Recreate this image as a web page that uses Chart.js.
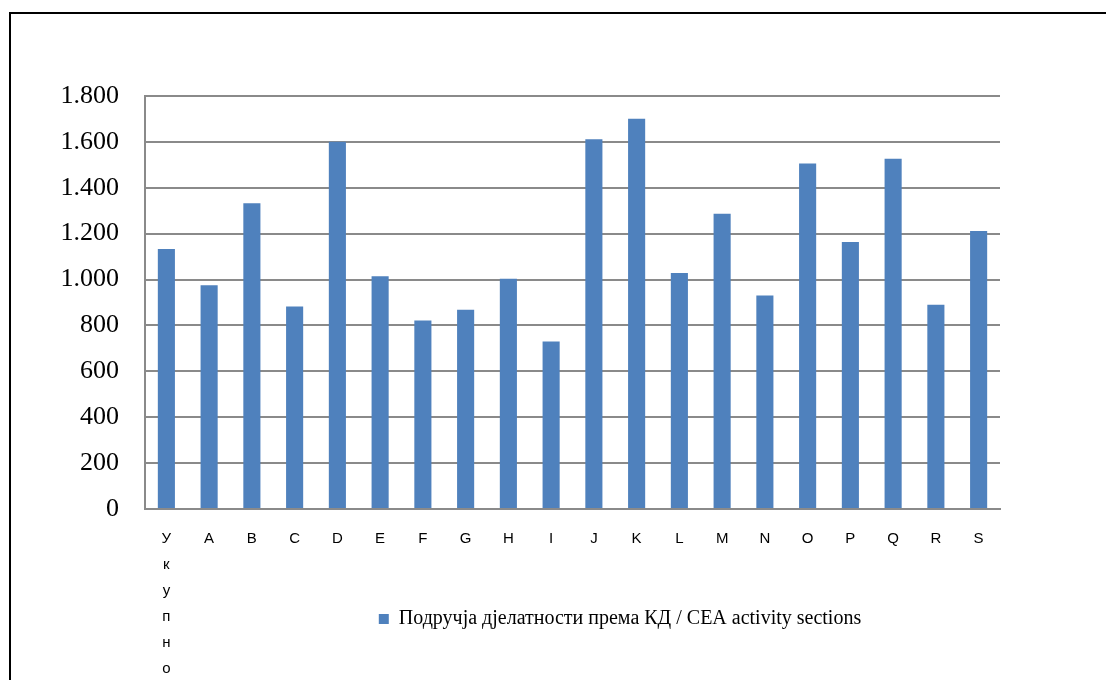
<!DOCTYPE html>
<html>
<head>
<meta charset="utf-8">
<script src="https://cdn.jsdelivr.net/npm/chart.js@4"></script>
<style>
  html, body { margin: 0; padding: 0; background: #fff; overflow: hidden; }
  #frame { position: absolute; left: 9px; top: 12px; border-left: 2px solid #000; border-top: 2px solid #000; }
  canvas { display: block; }
</style>
</head>
<body>
<div id="frame"><canvas id="chart" width="1218" height="680"></canvas></div>
<script>
// categories (first one written letter by letter, like in the original)
const categories = [['У', 'к', 'у', 'п', 'н', 'о'], 'A', 'B', 'C', 'D', 'E', 'F', 'G', 'H', 'I', 'J', 'K', 'L', 'M', 'N', 'O', 'P', 'Q', 'R', 'S'];
const values = [1133, 975, 1333, 883, 1601, 1014, 822, 868, 1004, 730, 1612, 1701, 1029, 1287, 930, 1506, 1164, 1526, 890, 1212];
const seriesName = 'Подручја дјелатности према КД / CEA activity sections';
const yMin = 0;
const yMax = 1800;
const yStep = 200;

const gridGray = '#8a8a8a';

function dotThousands(v) {
    return String(v).replace(/\B(?=(\d{3})+(?!\d))/g, '.');
}

// the vertical "Укупно" label runs past the x axis box, so let it draw down to the canvas bottom
const longLabels = {
    id: 'longLabels',
    afterLayout: function(chart) {
        chart.scales.x.bottom = chart.height;
    }
};

const ctx = document.getElementById('chart').getContext('2d');
new Chart(ctx, {
    type: 'bar',
    data: {
        labels: categories,
        datasets: [{
            label: seriesName,
            data: values,
            backgroundColor: '#4F81BD',
            borderWidth: 0,
            barPercentage: 0.4,
            categoryPercentage: 1.0
        }]
    },
    options: {
        responsive: false,
        animation: false,
        layout: { padding: { top: 82, left: 0, right: 0, bottom: 55 } },
        plugins: {
            tooltip: { enabled: false },
            legend: {
                position: 'bottom',
                labels: {
                    boxWidth: 10,
                    boxHeight: 10,
                    padding: 10,
                    color: '#000',
                    font: { family: 'Liberation Serif', size: 20 }
                }
            }
        },
        scales: {
            x: {
                grid: { display: false },
                border: { display: true, color: gridGray, width: 2 },
                ticks: {
                    autoSkip: false,
                    maxRotation: 0,
                    minRotation: 0,
                    padding: 9,
                    color: '#000',
                    font: { family: 'Liberation Sans', size: 15, lineHeight: '26px' }
                },
                afterFit: function(scale) { scale.height = 90; }
            },
            y: {
                min: yMin,
                max: yMax,
                ticks: {
                    stepSize: yStep,
                    padding: 26,
                    color: '#000',
                    font: { family: 'Liberation Serif', size: 26 },
                    callback: function(v) { return dotThousands(v); }
                },
                grid: { color: gridGray, lineWidth: 2, drawTicks: false },
                border: { display: true, color: gridGray, width: 2 },
                afterFit: function(scale) { scale.width = 134; }
            },
            y2: {
                position: 'right',
                grid: { display: false },
                border: { display: false },
                ticks: { display: false },
                afterFit: function(scale) { scale.width = 229; }
            }
        }
    },
    plugins: [longLabels]
});
</script>
</body>
</html>
